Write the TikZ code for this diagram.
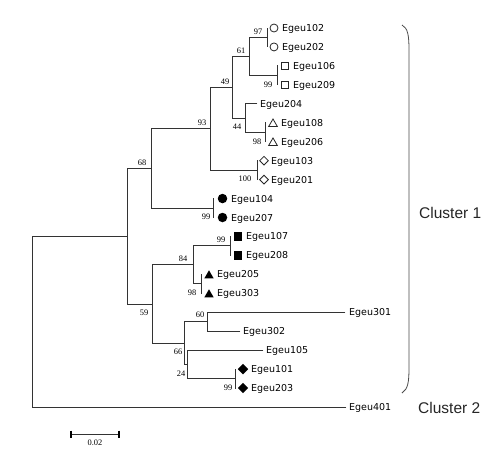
\documentclass[tikz,border=0pt]{standalone}
\usepackage{fontspec}
\setmainfont{Liberation Serif}
\newfontfamily\leaffont{DejaVu Sans}
\newfontfamily\clusterfont{Liberation Sans}
\usetikzlibrary{shapes.geometric}
\begin{document}
\begin{tikzpicture}[x=1pt,y=-1pt,
  br/.style={line width=0.9pt, draw=black!80, line cap=rect},
  leaf/.style={anchor=west, inner sep=0pt, text height=7pt, text depth=0pt, font=\leaffont\fontsize{9.5}{11}\selectfont},
  bs/.style={inner sep=0pt, text depth=0pt, font=\fontsize{8.4}{9}\selectfont},
  clus/.style={anchor=west, inner sep=0pt, text height=11pt, text depth=0pt, font=\clusterfont\fontsize{15.5}{17}\selectfont, text=black!85},
  ocirc/.style={circle, draw=black!85, line width=0.8pt, minimum size=8pt, inner sep=0pt},
  fcirc/.style={circle, fill=black, minimum size=9.5pt, inner sep=0pt},
  osq/.style={rectangle, draw=black!85, line width=0.8pt, minimum size=7.5pt, inner sep=0pt},
  fsq/.style={rectangle, fill=black, minimum size=8.3pt, inner sep=0pt},
  otri/.style={regular polygon, regular polygon sides=3, draw=black!85, line width=0.8pt, minimum size=10pt, inner sep=0pt},
  ftri/.style={regular polygon, regular polygon sides=3, fill=black, minimum size=10.8pt, inner sep=0pt},
  odia/.style={diamond, draw=black!85, line width=0.8pt, minimum size=9pt, inner sep=0pt},
  fdia/.style={diamond, fill=black, minimum size=10.5pt, inner sep=0pt},
]
\useasboundingbox[fill=white] (0,0) rectangle (488,453);

% ---- internal nodes ----
\coordinate (root) at (32,321.58);
\coordinate (nc1)  at (127,236.16);
\coordinate (n68)  at (151,168.35);
\coordinate (n93)  at (210,128.67);
\coordinate (n49)  at (232,87.22);
\coordinate (n61)  at (249,56.43);
\coordinate (n97)  at (267,37.48);
\coordinate (n99a) at (277,75.38);
\coordinate (n44)  at (245,118.01);
\coordinate (n98a) at (265,132.23);
\coordinate (n100) at (257,170.13);
\coordinate (n99b) at (213,208.03);
\coordinate (n59)  at (152,303.96);
\coordinate (n84)  at (193,264.88);
\coordinate (n99c) at (230,245.93);
\coordinate (n98b) at (201,283.83);
\coordinate (n66)  at (184,343.05);
\coordinate (n60)  at (207,321.73);
\coordinate (n24)  at (187,364.36);
\coordinate (n99d) at (235,378.58);

% ---- leaf tips (zero-length pairs) ----
\coordinate (t102) at (267,28);      \coordinate (t202) at (267,46.95);
\coordinate (t106) at (277,65.9);    \coordinate (t209) at (277,84.85);
\coordinate (t108) at (265,122.75);  \coordinate (t206) at (265,141.7);
\coordinate (t103) at (257,160.65);  \coordinate (t201) at (257,179.6);
\coordinate (t104) at (213,198.55);  \coordinate (t207) at (213,217.5);
\coordinate (t107) at (230,236.45);  \coordinate (t208) at (230,255.4);
\coordinate (t205) at (201,274.35);  \coordinate (t303) at (201,293.3);
\coordinate (t101) at (235,369.1);   \coordinate (t203) at (235,388.05);

% ---- symbols ----
\node[ocirc] (s102) at (274,28) {};
\node[ocirc] (s202) at (274,46.95) {};
\node[osq]   (s106) at (285,65.9) {};
\node[osq]   (s209) at (285,84.85) {};
\node[otri]  (s108) at (273,124) {};
\node[otri]  (s206) at (273,142.95) {};
\node[odia]  (s103) at (264,160.65) {};
\node[odia]  (s201) at (264,179.6) {};
\node[fcirc] (s104) at (222.5,198.55) {};
\node[fcirc] (s207) at (222.5,217.5) {};
\node[fsq]   (s107) at (238,236.45) {};
\node[fsq]   (s208) at (238,255.4) {};
\node[ftri]  (s205) at (209,275.7) {};
\node[ftri]  (s303) at (209,294.65) {};
\node[fdia]  (s101) at (243,369.1) {};
\node[fdia]  (s203) at (243,388.05) {};

% ---- leaf labels ----
\node[leaf] (l102) at (282,28) {Egeu102};
\node[leaf] (l202) at (282,46.95) {Egeu202};
\node[leaf] (l106) at (293,65.9) {Egeu106};
\node[leaf] (l209) at (293,84.85) {Egeu209};
\node[leaf] (l204) at (260,103.8) {Egeu204};
\node[leaf] (l108) at (281,122.75) {Egeu108};
\node[leaf] (l206) at (281,141.7) {Egeu206};
\node[leaf] (l103) at (271,160.65) {Egeu103};
\node[leaf] (l201) at (271,179.6) {Egeu201};
\node[leaf] (l104) at (231,198.55) {Egeu104};
\node[leaf] (l207) at (231,217.5) {Egeu207};
\node[leaf] (l107) at (246,236.45) {Egeu107};
\node[leaf] (l208) at (246,255.4) {Egeu208};
\node[leaf] (l205) at (217,274.35) {Egeu205};
\node[leaf] (l303) at (217,293.3) {Egeu303};
\node[leaf] (l301) at (349,312.25) {Egeu301};
\node[leaf] (l302) at (243,331.2) {Egeu302};
\node[leaf] (l105) at (266,350.15) {Egeu105};
\node[leaf] (l101) at (251,369.1) {Egeu101};
\node[leaf] (l203) at (251,388.05) {Egeu203};
\node[leaf] (l401) at (349,407) {Egeu401};

% ---- branches ----
\draw[br] (root) |- (nc1);
\draw[br] (root) |- ([xshift=-3pt]l401.west);
\draw[br] (nc1) |- (n68);
\draw[br] (nc1) |- (n59);
\draw[br] (n68) |- (n93);
\draw[br] (n68) |- (n99b);
\draw[br] (n93) |- (n49);
\draw[br] (n93) |- (n100);
\draw[br] (n49) |- (n61);
\draw[br] (n49) |- (n44);
\draw[br] (n61) |- (n97);
\draw[br] (n61) |- (n99a);
\draw[br] (n44) |- ([xshift=-3pt]l204.west);
\draw[br] (n44) |- (n98a);
\draw[br] (t102) -- (t202);
\draw[br] (t106) -- (t209);
\draw[br] (t108) -- (t206);
\draw[br] (t103) -- (t201);
\draw[br] (t104) -- (t207);
\draw[br] (n59) |- (n84);
\draw[br] (n59) |- (n66);
\draw[br] (n84) |- (n99c);
\draw[br] (n84) |- (n98b);
\draw[br] (t107) -- (t208);
\draw[br] (t205) -- (t303);
\draw[br] (n66) |- (n60);
\draw[br] (n66) |- (n24);
\draw[br] (n60) |- ([xshift=-4pt]l301.west);
\draw[br] (n60) |- ([xshift=-3pt]l302.west);
\draw[br] (n24) |- ([xshift=-3pt]l105.west);
\draw[br] (n24) |- (n99d);
\draw[br] (t101) -- (t203);

% ---- bootstrap values ----
\node[bs] at (258,32) {97};
\node[bs] at (241,51) {61};
\node[bs] at (268,85) {99};
\node[bs] at (225,82) {49};
\node[bs] at (237,127) {44};
\node[bs] at (257,142) {98};
\node[bs] at (202,123) {93};
\node[bs] at (245,179) {100};
\node[bs] at (142,163) {68};
\node[bs] at (206,217) {99};
\node[bs] at (221,240) {99};
\node[bs] at (183,259) {84};
\node[bs] at (192,293) {98};
\node[bs] at (144,313) {59};
\node[bs] at (200,315) {60};
\node[bs] at (178,352) {66};
\node[bs] at (181,374) {24};
\node[bs] at (228,388) {99};

% ---- cluster bracket and labels ----
\draw[line width=0.8pt, draw=black!70] (402,25) .. controls (408,28) and (409,36) .. (409,50) -- (409,368) .. controls (409,382) and (408,389) .. (402,393);
\node[clus] (c1) at (419,213) {Cluster 1};
\node[clus] (c2) at (418,408) {Cluster 2};

% ---- scale bar ----
\coordinate (sbA) at (71,434);
\coordinate (sbB) at (119,434);
\draw[br, line cap=butt] (sbA) -- (sbB);
\draw[line width=1.1pt] (71,430.5) -- (71,437.5);
\draw[line width=1.1pt] (119,430.5) -- (119,437.5);
\node[bs] (sbl) at (95,443) {0.02};
\end{tikzpicture}
\end{document}
